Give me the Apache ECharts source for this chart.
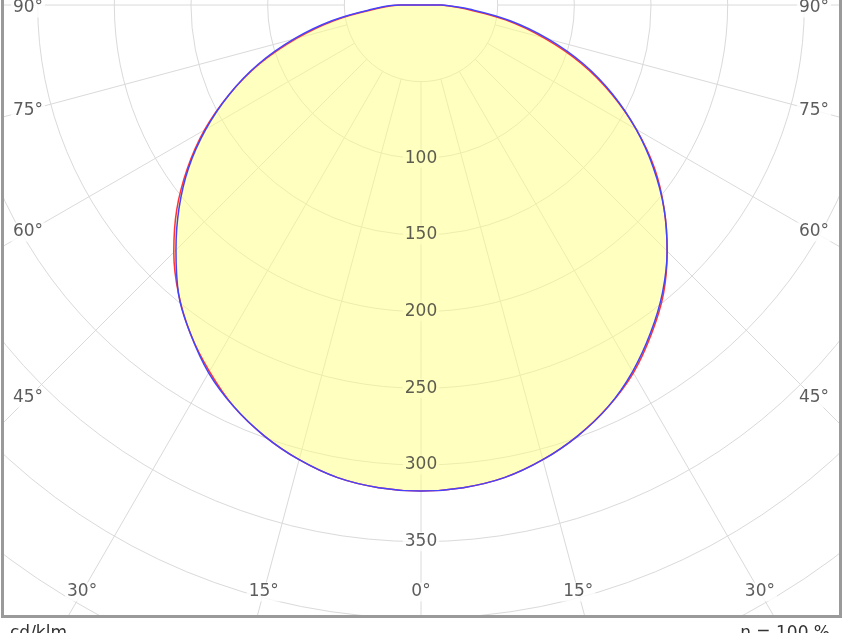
<!DOCTYPE html>
<html>
<head>
<meta charset="utf-8">
<script src="https://cdn.jsdelivr.net/npm/echarts@6/dist/echarts.min.js"></script>
<style>
html,body{margin:0;padding:0;background:#fff;}
#chart{width:844px;height:633px;}
</style>
</head>
<body>
<div id="chart"></div>
<script>
// ---- data (luminous intensity, cd/klm) ----
const gammaAngles = [0,5,10,15,20,25,30,35,40,45,50,55,60,65,70,75,80,85,90];
const c0Values   = [317,316,313,307,299,289,276,262,246,228,208,186,163,138,112,84,57,30,13];
const c180Values = [317,316,313,307,299,289,277,262,246,227,207,186,162,137,111,83,56,29,13];
const c90Values  = [317,316,313,307,299,289,277,262,246,226,206,185,162,138,113,86,59,32,14];
const c270Values = [317,316,313,307,299,289,276,261,245,227,207,185,162,138,113,86,59,32,14];
const radiusTicks = [100,150,200,250,300,350];
const angleTickLabels = [0,15,30,45,60,75,90];
const unitLabel = 'cd/klm';
const efficiencyLabel = 'η = 100 %';

// ---- layout ----
const CX = 421, CY = 5;
const RMAX = 500;
const RPX = 766.67;           // pixel radius of RMAX
const PXU = RPX / RMAX;
const LABEL_W = 393, LABEL_H = 587; // inset box for angle labels
const FILL = 'rgba(255,255,128,0.5)';
const FILL_SOLID = '#ffffbf';

// closed curve: C180/C270 side (right, negative angles) -> nadir -> C0/C90 side (left), closed across the top
function planeData(rightVals, leftVals) {
  const d = [];
  for (let i = gammaAngles.length - 1; i >= 0; i--) d.push([rightVals[i], -gammaAngles[i]]);
  for (let i = 1; i < gammaAngles.length; i++) d.push([leftVals[i], gammaAngles[i]]);
  d.push(d[0].slice());
  return d;
}

const angleLabelData = [];
angleTickLabels.forEach(a => {
  const sides = a === 0 ? [1] : [1, -1];
  sides.forEach(s => {
    const rad = a * Math.PI / 180;
    const sn = Math.sin(rad), cs = Math.cos(rad);
    const rpx = Math.min(sn > 1e-6 ? LABEL_W / sn : Infinity, cs > 1e-6 ? LABEL_H / cs : Infinity);
    const item = { name: a + '°', value: [rpx / PXU, s * a] };
    if (a === 90) item.label = { offset: [0, 3] };
    angleLabelData.push(item);
  });
});

const radiusLabelData = radiusTicks.map(v => ({
  name: String(v), value: [v, 0],
  label: { backgroundColor: v <= 300 ? FILL_SOLID : '#ffffff' }
}));

const txt = { fontFamily: 'DejaVu Sans', fontSize: 17, color: '#333333' };

const chart = echarts.init(document.getElementById('chart'), null, { renderer: 'canvas' });
chart.setOption({
  animation: false,
  backgroundColor: '#ffffff',
  polar: [
    { center: [CX, CY], radius: [50 * PXU, RPX] },
    { center: [CX, CY], radius: RPX }
  ],
  angleAxis: [
    { polarIndex: 0, type: 'value', min: -180, max: 180, interval: 15, startAngle: 90, clockwise: true,
      axisLine: { show: false }, axisTick: { show: false }, axisLabel: { show: false },
      splitLine: { show: true, lineStyle: { color: '#dadada', width: 1 } } },
    { polarIndex: 1, type: 'value', min: -180, max: 180, interval: 15, startAngle: 90, clockwise: true,
      axisLine: { show: false }, axisTick: { show: false }, axisLabel: { show: false }, splitLine: { show: false } }
  ],
  radiusAxis: [
    { polarIndex: 0, type: 'value', min: 50, max: RMAX, interval: 50,
      axisLine: { show: false }, axisTick: { show: false }, axisLabel: { show: false },
      splitLine: { show: true, lineStyle: { color: '#dadada', width: 1 } } },
    { polarIndex: 1, type: 'value', min: 0, max: RMAX,
      axisLine: { show: false }, axisTick: { show: false }, axisLabel: { show: false }, splitLine: { show: false } }
  ],
  series: [
    { type: 'line', coordinateSystem: 'polar', polarIndex: 1, name: 'C0-C180',
      data: planeData(c180Values, c0Values), symbol: 'none', smooth: 0.4, z: 2,
      lineStyle: { color: '#ff3333', width: 1.5 }, areaStyle: { color: FILL, opacity: 1 } },
    { type: 'line', coordinateSystem: 'polar', polarIndex: 1, name: 'C90-C270',
      data: planeData(c270Values, c90Values), symbol: 'none', smooth: 0.4, z: 3,
      lineStyle: { color: '#4444ff', width: 1.5 } },
    { type: 'scatter', coordinateSystem: 'polar', polarIndex: 1, z: 5, silent: true,
      symbolSize: 1, itemStyle: { color: 'rgba(0,0,0,0)' },
      label: Object.assign({ show: true, position: 'inside', formatter: '{b}', padding: [1, 2] }, txt),
      data: radiusLabelData },
    { type: 'scatter', coordinateSystem: 'polar', polarIndex: 1, z: 5, silent: true,
      symbolSize: 1, itemStyle: { color: 'rgba(0,0,0,0)' },
      label: Object.assign({ show: true, position: 'inside', formatter: '{b}', backgroundColor: '#ffffff', padding: [1, 2] }, txt),
      data: angleLabelData }
  ],
  graphic: [
    { type: 'rect', z: 100, shape: { x: 0, y: 618, width: 844, height: 20 }, style: { fill: '#ffffff' } },
    { type: 'rect', z: 100, shape: { x: 0, y: 0, width: 1, height: 633 }, style: { fill: '#ffffff' } },
    { type: 'rect', z: 100, shape: { x: 842, y: 0, width: 2, height: 633 }, style: { fill: '#ffffff' } },
    { type: 'line', z: 101, shape: { x1: 2.5, y1: 0, x2: 2.5, y2: 616.5 }, style: { stroke: '#9a9a9a', lineWidth: 3 } },
    { type: 'line', z: 101, shape: { x1: 840.5, y1: 0, x2: 840.5, y2: 616.5 }, style: { stroke: '#9a9a9a', lineWidth: 3 } },
    { type: 'line', z: 101, shape: { x1: 1, y1: 616.5, x2: 842, y2: 616.5 }, style: { stroke: '#9a9a9a', lineWidth: 3 } },
    { type: 'text', z: 102, left: 10, top: 625,
      style: { text: unitLabel, font: '17px "DejaVu Sans"', fill: '#333333' } },
    { type: 'text', z: 102, right: 14, top: 625,
      style: { text: efficiencyLabel, font: '17px "DejaVu Sans"', fill: '#333333' } }
  ]
});
</script>
</body>
</html>
